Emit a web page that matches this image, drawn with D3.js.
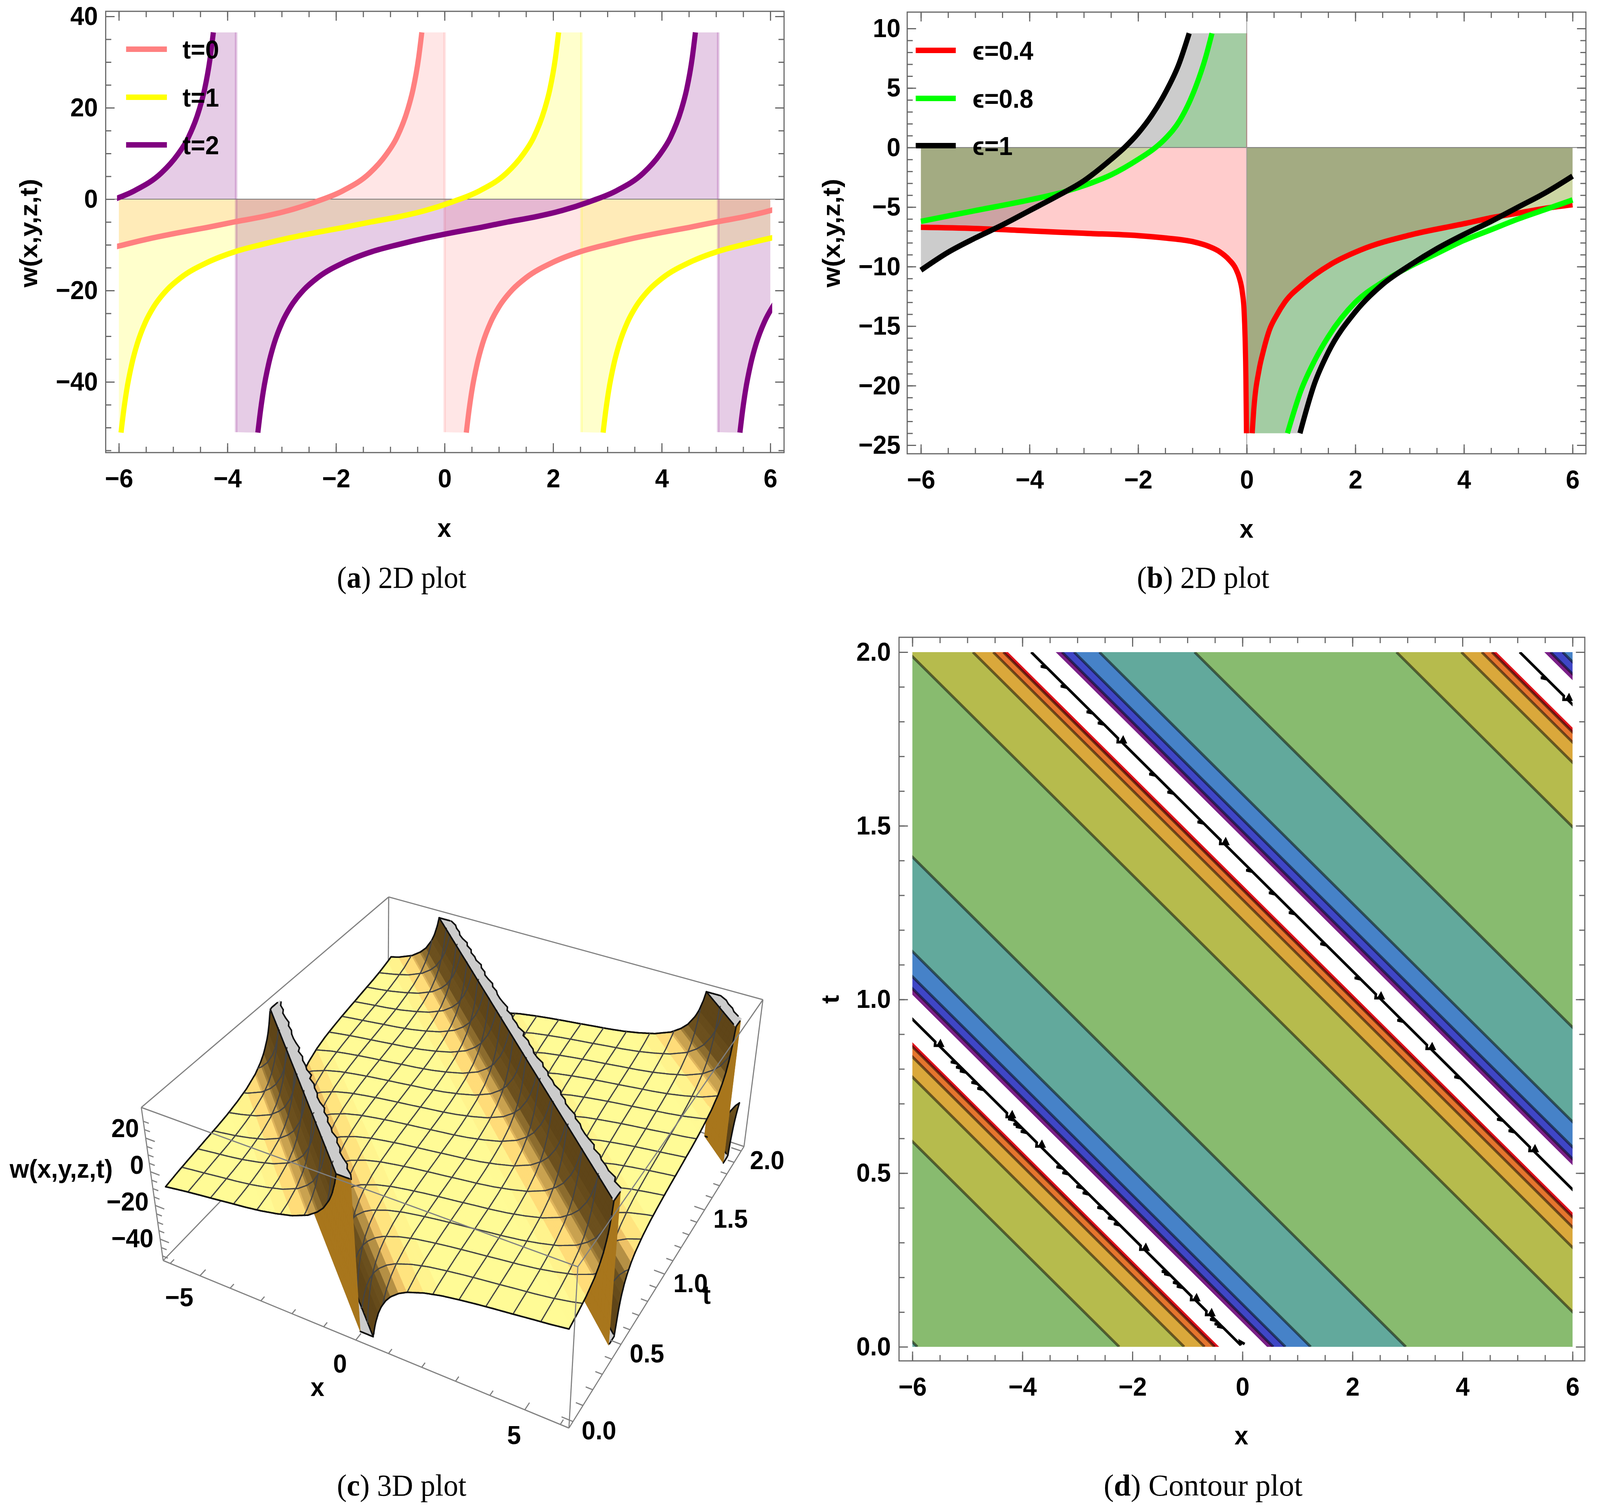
<!DOCTYPE html>
<html>
<head>
<meta charset="utf-8">
<script src="https://cdn.jsdelivr.net/npm/d3@7/dist/d3.min.js"></script>
<style>
  html, body { margin: 0; padding: 0; background: #fff; overflow: hidden; }
  svg { display: block; width: 100vw; height: 100vh; }
  text { font-family: "Liberation Sans", "DejaVu Sans", sans-serif; font-weight: bold; fill: #000; }
  .cap { font-family: "Liberation Serif", serif; font-weight: normal; }
</style>
</head>
<body>
<svg id="fig" viewBox="0 0 4314 3872" preserveAspectRatio="none"></svg>
<script>
// wave profile: distance right of a pole -> w
var phase = [0.40,0.45,0.5,0.6,0.7,0.85,1.0,1.25,1.5,2.0,2.5,3.0,3.5,4.0,4.5,5.0,5.5,6.0,6.5,7.0,7.5,7.8,8.0,8.2,8.3,8.4,8.46];
var profile = [-51.1,-46.2,-42.1,-36.0,-31.6,-26.9,-23.6,-19.8,-17.2,-13.8,-11.5,-9.9,-8.5,-7.3,-6.2,-5.0,-3.9,-2.5,-0.6,1.8,5.7,9.7,13.5,19.6,24.1,30.8,36.5];
var period = 8.88, speed = 6.36;

// panel a
var tLabels = ["t=0", "t=1", "t=2"];
var tColors = ["#ff8080", "#ffff00", "#800080"];
var tPoles = [[-8.88, 0], [-6.36, 2.52], [-12.72, -3.84, 5.04]];
var aFloor = -51, aCeil = 36.5;

// panel b, one left and one right branch per curve
var epsLabels = ["\u03f5=0.4", "\u03f5=0.8", "\u03f5=1"];
var epsColors = ["#ff0000", "#00ff00", "#000000"];
var redLeftX = [-6,-5,-4,-3,-2,-1.5,-1,-0.7,-0.5,-0.33,-0.2,-0.14,-0.08,-0.05,-0.03,-0.015,-0.005];
var redLeftW = [-6.7,-6.8,-7.0,-7.2,-7.4,-7.6,-7.9,-8.3,-8.75,-9.4,-10.2,-10.9,-12.2,-13.6,-16,-19.5,-24];
var redRightX = [0.1,0.13,0.23,0.3,0.42,0.55,0.7,1.03,1.55,2.1,3.05,4,4.5,5,5.5,6];
var redRightW = [-24,-22,-18.6,-17.2,-15.3,-14.1,-13,-11.5,-9.8,-8.6,-7.3,-6.4,-5.9,-5.5,-5.1,-4.8];
var greenLeftX = [-6,-5,-4,-3.43,-3,-2.5,-2,-1.68,-1.5,-1.23,-0.94,-0.756,-0.64];
var greenLeftW = [-6.2,-5.3,-4.4,-3.8,-3.2,-2.3,-1.0,0,0.75,2.3,5.1,7.6,9.6];
var greenRightX = [0.75,1,1.25,1.5,2,2.5,3,3.5,4,4.5,5,5.5,6];
var greenRightW = [-24,-20.4,-17.9,-15.9,-13,-11.3,-10,-8.9,-7.8,-6.9,-6,-5.2,-4.4];
var blackLeftX = [-6,-5.5,-5,-4.5,-4,-3.5,-3,-2.5,-2.25,-2,-1.75,-1.5,-1.25,-1.06];
var blackLeftW = [-10.3,-8.8,-7.6,-6.5,-5.3,-4.1,-2.8,-1.0,0,1.2,2.7,4.6,7.0,9.6];
var blackRightX = [0.98,1.25,1.5,2,2.5,3,3.5,4,4.5,5,5.5,6];
var blackRightW = [-24,-19.8,-17.2,-13.8,-11.5,-9.9,-8.5,-7.3,-6.2,-5,-3.8,-2.4];
var bCeil = 9.6, bFloor = -24;

// panel d, band edges in x + 6.36 t, one period
var bandEdges = [0.45,0.56,0.78,1.24,2.97,6.64,7.82,8.19,8.374,8.453];
var bandColors = ["#7a1f87","#3f46c6","#4682c8","#62a99c","#88bb6f","#b6bb4d","#daa83b","#e5752d","#e0141c"];
var lineEdges = [0.56,0.78,1.24,2.97,6.64,7.82,8.19,8.374];
var poleTeeth = [
  [0.058,0.065,0.078,0.173,0.184,0.209,0.216,0.353,0.37,0.40,0.442,0.46,0.50,0.517,0.619,0.633,0.64,0.655,0.743,0.76,0.793,0.804,0.819],
  [0.621,0.654,0.776,0.939,1.061,1.159,1.249,1.306,1.371,1.51,1.596,1.648,1.795,1.827,1.901,1.958],
  [1.925]
];
var poleNotches = [
  [0.10,0.143,0.288,0.585,0.67,0.875],
  [0.572,0.866,1.012,1.456,1.749],
  [1.871]
];
var poleOffsets = [0, 8.88, 17.76];

// panel c ticks
var xTicks3d = [-5, 0, 5], xMinor3d = [-6,-5,-4,-3,-2,-1,0,1,2,3,4,5,6];
var tTicks3d = [0, 0.5, 1, 1.5, 2], tMinor3d = d3.range(0, 2.01, 0.1);
var wTicks3d = [20, 0, -20, -40], wMinor3d = d3.range(-50, 31, 5);
// panel c strips of the surface between pole lines, and the rough far edge of the clipped top
var stripEdges = [0.4,0.45,0.5,0.55,0.6,0.65,0.7,0.75,0.8,0.85,0.9,0.95,1,1.05,1.1,1.15,1.2,1.25,1.3,1.35,1.4,1.45,1.5,1.6,1.7,1.8,1.9,2,2.1,2.2,2.35,2.5,2.75,3,3.25,3.5,3.75,4,4.25,4.5,4.75,5,5.25,5.5,5.65,5.8,5.95,6.1,6.2,6.3,6.4,6.5,6.6,6.7,6.8,6.9,7,7.06,7.12,7.18,7.24,7.3,7.36,7.42,7.48,7.54,7.6,7.66,7.72,7.78,7.84,7.9,7.95,8,8.05,8.1,8.15,8.2,8.25,8.3,8.35,8.4,8.43,8.46];
var stripRough = [0.02,0.07,0.03,0.1,0.04,0.01,0.08,0.05,0.12,0.03,0.06,0.02,0.09,0.04,0.11,0.03,0.01,0.07,0.05,0.09,0.02,0.13,0.04,0.06,0.03,0.08,0.01,0.1,0.05,0.02];

var svg = d3.select("#fig");
svg.append("rect").attr("width", 4314).attr("height", 3872).attr("fill", "#fff");

var FS = 67;
function minus(s) { return String(s).replace("-", "\u2212"); }

function drawAxes(g, box, sx, sy, xMajor, xMinor, yMajor, yMinor, yFmt, xPad, yPad) {
  g.append("rect").attr("x", box.l).attr("y", box.t).attr("width", box.r - box.l).attr("height", box.b - box.t)
    .attr("fill", "none").attr("stroke", "#666").attr("stroke-width", 3);
  var sides = [
    [d3.axisBottom, sx, "translate(0," + box.b + ")", xMajor, xMinor, d3.format("d"), xPad],
    [d3.axisTop, sx, "translate(0," + box.t + ")", xMajor, xMinor, null, 0],
    [d3.axisLeft, sy, "translate(" + box.l + ",0)", yMajor, yMinor, yFmt, yPad],
    [d3.axisRight, sy, "translate(" + box.r + ",0)", yMajor, yMinor, null, 0]
  ];
  sides.forEach(function(s) {
    var ag = g.append("g").attr("transform", s[2]);
    ag.append("g").call(s[0](s[1]).tickValues(s[4]).tickSize(-15).tickFormat(""));
    ag.append("g").call(s[0](s[1]).tickValues(s[3]).tickSize(-24).tickPadding(s[6])
      .tickFormat(s[5] ? function(d) { return minus(s[5](d)); } : ""));
    ag.selectAll(".domain").remove();
    ag.selectAll("line").attr("stroke", "#666").attr("stroke-width", 3);
    ag.selectAll("g").attr("font-family", null).attr("font-size", null);
  });
  g.selectAll("text").style("font-size", FS + "px");
}

function clipRect(id, x0, y0, x1, y1) {
  svg.append("clipPath").attr("id", id).append("rect").attr("x", x0).attr("y", y0).attr("width", x1 - x0).attr("height", y1 - y0);
}

function caption(cx, cy, letter, rest, len) {
  var t = svg.append("text").attr("class", "cap").attr("x", cx).attr("y", cy).attr("text-anchor", "middle")
    .attr("font-size", 78).attr("textLength", len).attr("lengthAdjust", "spacingAndGlyphs");
  t.append("tspan").text("(");
  t.append("tspan").style("font-weight", "bold").text(letter);
  t.append("tspan").text(") " + rest);
}

function legend(g, labels, colors, x0, x1, tx, ys) {
  labels.forEach(function(l, i) {
    g.append("line").attr("x1", x0).attr("x2", x1).attr("y1", ys[i]).attr("y2", ys[i])
      .attr("stroke", colors[i]).attr("stroke-width", 14);
    g.append("text").attr("x", tx).attr("y", ys[i]).attr("dy", "0.36em").attr("font-size", FS).text(l);
  });
}

// ---- panel a
(function() {
  var box = { l: 285, r: 2114, t: 29, b: 1159 };
  var sx = d3.scaleLinear().domain([-6, 6]).range([320.5, 2077]);
  var sy = d3.scaleLinear().domain([-40, 40]).range([978, 42]);
  var g = svg.append("g");
  clipRect("clipA", sx(-6), box.t, sx(6), box.b);
  clipRect("clipAl", sx(-6) - 5, box.t, sx(6) + 5, box.b);

  var area = d3.area().x(function(d) { return sx(d[0]); }).y0(sy(0)).y1(function(d) { return sy(d[1]); }).curve(d3.curveMonotoneX);
  var line = d3.line().x(function(d) { return sx(d[0]); }).y(function(d) { return sy(d[1]); }).curve(d3.curveMonotoneX);

  tPoles.forEach(function(poles, i) {
    poles.forEach(function(p) {
      var pts = phase.map(function(u, k) { return [p + u, profile[k]]; });
      var fillPts = [[p, aFloor]].concat(pts).concat([[p + period, aCeil]]);
      g.append("path").attr("d", area(fillPts)).attr("fill", tColors[i]).attr("fill-opacity", 0.2).attr("clip-path", "url(#clipA)");
      g.append("line").attr("x1", sx(p)).attr("x2", sx(p)).attr("y1", sy(aCeil)).attr("y2", sy(aFloor))
        .attr("stroke", tColors[i]).attr("stroke-opacity", 0.2).attr("stroke-width", 7).attr("clip-path", "url(#clipAl)");
    });
  });
  g.append("line").attr("x1", box.l).attr("x2", box.r).attr("y1", sy(0)).attr("y2", sy(0)).attr("stroke", "#777").attr("stroke-width", 2);
  tPoles.forEach(function(poles, i) {
    poles.forEach(function(p) {
      var pts = phase.map(function(u, k) { return [p + u, profile[k]]; });
      g.append("path").attr("d", line(pts)).attr("fill", "none").attr("stroke", tColors[i]).attr("stroke-width", 14)
        .attr("clip-path", "url(#clipAl)");
    });
  });
  legend(g, tLabels, tColors, 340, 450, 492, [126, 249, 371]);
  drawAxes(g, box, sx, sy, d3.range(-6, 7, 2), d3.range(-6, 6.1, 0.5), d3.range(-40, 41, 20), d3.range(-55, 41, 5), d3.format("d"), 41, 21);
  g.append("text").attr("transform", "translate(76,597) rotate(-90)").attr("text-anchor", "middle").attr("dy", "0.36em").attr("font-size", FS).text("w(x,y,z,t)");
  g.append("text").attr("x", 1198).attr("y", 1351).attr("text-anchor", "middle").attr("dy", "0.36em").attr("font-size", FS).text("x");
  caption(1083, 1505, "a", "2D plot", 349);
})();

// ---- panel b
(function() {
  var box = { l: 2446, r: 4276, t: 31, b: 1162 };
  var sx = d3.scaleLinear().domain([-6, 6]).range([2483, 4240]);
  var sy = d3.scaleLinear().domain([-25, 10]).range([1140, 73]);
  var g = svg.append("g");
  var area = d3.area().x(function(d) { return sx(d[0]); }).y0(sy(0)).y1(function(d) { return sy(d[1]); }).curve(d3.curveMonotoneX);
  var line = d3.line().x(function(d) { return sx(d[0]); }).y(function(d) { return sy(d[1]); }).curve(d3.curveMonotoneX);
  function zipPts(xs, ws) { return xs.map(function(x, i) { return [x, ws[i]]; }); }
  var curves = [
    [zipPts(redLeftX, redLeftW), zipPts(redRightX, redRightW), bFloor],
    [zipPts(greenLeftX, greenLeftW), zipPts(greenRightX, greenRightW), bCeil],
    [zipPts(blackLeftX, blackLeftW), zipPts(blackRightX, blackRightW), bCeil]
  ];
  curves.forEach(function(c, i) {
    g.append("path").attr("d", area(c[0].concat([[0, c[2]]]))).attr("fill", epsColors[i]).attr("fill-opacity", 0.2);
    g.append("path").attr("d", area([[0, bFloor]].concat(c[1]))).attr("fill", epsColors[i]).attr("fill-opacity", 0.2);
  });
  g.append("line").attr("x1", sx(0)).attr("x2", sx(0)).attr("y1", sy(bCeil)).attr("y2", sy(0)).attr("stroke", "#ff0000").attr("stroke-opacity", 0.45).attr("stroke-width", 3);
  g.append("line").attr("x1", box.l).attr("x2", box.r).attr("y1", sy(0)).attr("y2", sy(0)).attr("stroke", "#777").attr("stroke-width", 2);
  g.append("line").attr("x1", sx(0)).attr("x2", sx(0)).attr("y1", box.t).attr("y2", box.b).attr("stroke", "#999").attr("stroke-width", 2);
  curves.forEach(function(c, i) {
    [c[0], c[1]].forEach(function(pts) {
      g.append("path").attr("d", line(pts)).attr("fill", "none").attr("stroke", epsColors[i]).attr("stroke-width", 14);
    });
  });
  legend(g, epsLabels, epsColors, 2469, 2577, 2622, [129, 252, 373]);
  drawAxes(g, box, sx, sy, d3.range(-6, 7, 2), d3.range(-6, 6.1, 0.5), d3.range(-25, 11, 5), d3.range(-25, 11, 1), d3.format("d"), 41, 18);
  g.append("text").attr("transform", "translate(2240,597) rotate(-90)").attr("text-anchor", "middle").attr("dy", "0.36em").attr("font-size", FS).text("w(x,y,z,t)");
  g.append("text").attr("x", 3361).attr("y", 1353).attr("text-anchor", "middle").attr("dy", "0.36em").attr("font-size", FS).text("x");
  caption(3244, 1505, "b", "2D plot", 357);
})();

// ---- panel c
(function() {
  var g = svg.append("g");
  var sS = d3.scaleLinear().domain([-6.24, 6.24]).range([0, 1]);
  var sR = d3.scaleLinear().domain([-0.04, 2.04]).range([0, 1]);
  var sZ = d3.scaleLinear().domain([-52.7, 38.2]).range([0, 1]);

  // corners of box, order (s,r): (0,0) (1,0) (1,1) (0,1)
  var topQuad = [[381, 2836], [1558, 3244], [2057, 2560], [1048, 2297]];
  var botQuad = [[440, 3228], [1534, 3657], [2006, 2936], [1046, 2633]];

  function homography(q) {
    var x0 = q[0][0], y0 = q[0][1], x1 = q[1][0], y1 = q[1][1], x2 = q[2][0], y2 = q[2][1], x3 = q[3][0], y3 = q[3][1];
    var dx1 = x1 - x2, dx2 = x3 - x2, dy1 = y1 - y2, dy2 = y3 - y2;
    var sx = x0 - x1 + x2 - x3, sy = y0 - y1 + y2 - y3;
    var den = dx1 * dy2 - dx2 * dy1;
    var gg = (sx * dy2 - dx2 * sy) / den, h = (dx1 * sy - sx * dy1) / den;
    var a = x1 - x0 + gg * x1, b = x3 - x0 + h * x3, d = y1 - y0 + gg * y1, e = y3 - y0 + h * y3;
    return function(s, r) {
      var w = gg * s + h * r + 1;
      return [(a * s + b * r + x0) / w, (d * s + e * r + y0) / w];
    };
  }
  var hTop = homography(topQuad), hBot = homography(botQuad);
  function proj(x, t, w) {
    var s = sS(x), r = sR(t), z = sZ(w), a = hBot(s, r), b = hTop(s, r);
    return [a[0] + (b[0] - a[0]) * z, a[1] + (b[1] - a[1]) * z];
  }
  function dist(x, t, w) {
    var X = sS(x) - 0.5 - 1.3, Y = sR(t) - 0.5 + 2.4, Z = (sZ(w) - 0.5) * 0.4 - 2;
    return Math.sqrt(X * X + Y * Y + Z * Z);
  }
  function seg(a, b, col, wd) {
    g.append("line").attr("x1", a[0]).attr("y1", a[1]).attr("x2", b[0]).attr("y2", b[1]).attr("stroke", col).attr("stroke-width", wd);
  }
  var boxCol = "#808080";
  seg(topQuad[3], botQuad[3], boxCol, 3);
  seg(botQuad[0], botQuad[3], boxCol, 3);
  seg(botQuad[2], botQuad[3], boxCol, 3);

  var waveAt = d3.scaleLinear().domain(phase).range(profile).clamp(true);
  var slopeColor = d3.scaleLinear()
    .domain([0, 3.6, 6, 9, 13, 19, 30, 60])
    .range(["#fffb96", "#fffb96", "#ffeb84", "#ffd272", "#cda552", "#8c6c2e", "#6c501e", "#5f4518"])
    .clamp(true);

  var items = [];
  // keep the part of a polygon with -6 <= x <= 6, vertices [x,t,w]
  function clipX(poly, limit, sign) {
    var out = [];
    poly.forEach(function(a, i) {
      var b = poly[(i + 1) % poly.length], ia = sign * (a[0] - limit) >= 0, ib = sign * (b[0] - limit) >= 0;
      if (ia) out.push(a);
      if (ia !== ib) {
        var f = (limit - a[0]) / (b[0] - a[0]);
        out.push([limit, a[1] + (b[1] - a[1]) * f, a[2] + (b[2] - a[2]) * f]);
      }
    });
    return out;
  }
  function addPoly(poly, col, bias) {
    var c = clipX(clipX(poly, -6, 1), 6, -1);
    if (c.length < 3) return;
    var d = "M" + c.map(function(v) { var p = proj(v[0], v[1], v[2]); return p[0].toFixed(1) + "," + p[1].toFixed(1); }).join("L") + "Z";
    items.push({ d: d, fill: col, stroke: col, sw: 1.2,
      depth: dist(d3.mean(c, function(v) { return v[0]; }), d3.mean(c, function(v) { return v[1]; }), d3.mean(c, function(v) { return v[2]; })) + (bias || 0) });
  }
  function addSeg(a, b, col, wd) {
    if (Math.max(a[0], b[0]) > 6.001 || Math.min(a[0], b[0]) < -6.001) return;
    var p = proj(a[0], a[1], a[2]), q = proj(b[0], b[1], b[2]);
    items.push({ d: "M" + p[0].toFixed(1) + "," + p[1].toFixed(1) + "L" + q[0].toFixed(1) + "," + q[1].toFixed(1),
      fill: "none", stroke: col, sw: wd, depth: dist((a[0] + b[0]) / 2, (a[1] + b[1]) / 2, (a[2] + b[2]) / 2) - 0.02 });
  }

  var nt = 80, dt = 2 / nt, top = phase[phase.length - 1], bot = phase[0];
  var zFloor = profile[0], zCeil = profile[profile.length - 1];
  d3.range(-1, 3).forEach(function(k) {
    var off = k * period;
    function at(u, t, w) { return [off + u - speed * t, t, w]; }
    d3.range(nt).forEach(function(j) {
      var t0 = j * dt, t1 = (j + 1) * dt;
      var e0 = period + stripRough[j % stripRough.length], e1 = period + stripRough[(j + 1) % stripRough.length];
      stripEdges.slice(1).forEach(function(u1, i) {
        var u0 = stripEdges[i], w0 = waveAt(u0), w1 = waveAt(u1);
        addPoly([at(u0, t0, w0), at(u1, t0, w1), at(u1, t1, w1), at(u0, t1, w0)], slopeColor((w1 - w0) / (u1 - u0)));
      });
      // clipped top and bottom of the pole, then the wall that joins them
      addPoly([at(top, t0, zCeil), at(e0, t0, zCeil), at(e1, t1, zCeil), at(top, t1, zCeil)], "#cccccc", -0.002);
      addPoly([at(period, t0, zFloor), at(period + bot, t0, zFloor), at(period + bot, t1, zFloor), at(period, t1, zFloor)], "#cccccc", 0.002);
      d3.range(8).forEach(function(z) {
        var a = zFloor + (zCeil - zFloor) * z / 8, b = zFloor + (zCeil - zFloor) * (z + 1) / 8;
        addPoly([at(period, t0, a), at(period, t1, a), at(period, t1, b), at(period, t0, b)], "#a8761c");
      });
      addSeg(at(top, t0, zCeil), at(top, t1, zCeil), "#111", 4);
      addSeg(at(e0, t0, zCeil), at(e1, t1, zCeil), "#111", 4);
      addSeg(at(bot + period, t0, zFloor), at(bot + period, t1, zFloor), "#111", 4);
    });
  });

  function waveWrap(u) { return ((u % period) + period) % period; }
  function meshHeight(x, t) { return waveAt(waveWrap(x + speed * t)); }
  function hiddenOnPlateau(x, t) { var u = waveWrap(x + speed * t); return u < bot || u > top; }
  function track(pts, col, wd, keepPlateau) {
    for (var i = 1; i < pts.length; i++) {
      var a = pts[i - 1], b = pts[i];
      if (Math.abs(a[2] - b[2]) > 40) continue;
      if (!keepPlateau && hiddenOnPlateau(a[0], a[1]) && hiddenOnPlateau(b[0], b[1])) continue;
      addSeg(a, b, col, wd);
    }
  }
  var meshN = 16;
  d3.range(0, meshN + 1).forEach(function(m) {
    var mx = -6 + 12 * m / meshN, mt = 2 * m / meshN, edge = m === 0 || m === meshN;
    var col = edge ? "#111" : "#444", wd = edge ? 4 : 3.2;
    track(d3.range(0, 161).map(function(i) { var t = i / 80; return [mx, t, meshHeight(mx, t)]; }), col, wd, edge);
    track(d3.range(0, 401).map(function(i) { var x = -6 + 12 * i / 400; return [x, mt, meshHeight(x, mt)]; }), col, wd, edge);
  });

  items.sort(function(a, b) { return b.depth - a.depth; });
  g.append("g").selectAll("path").data(items).join("path")
    .attr("d", function(d) { return d.d; })
    .attr("fill", function(d) { return d.fill; })
    .attr("stroke", function(d) { return d.stroke; })
    .attr("stroke-width", function(d) { return d.sw; })
    .attr("stroke-linejoin", "round")
    .attr("stroke-linecap", "round");

  // front box edges over surface
  seg(topQuad[0], topQuad[1], boxCol, 3);
  seg(topQuad[1], topQuad[2], boxCol, 3);
  seg(topQuad[2], topQuad[3], boxCol, 3);
  seg(topQuad[3], topQuad[0], boxCol, 3);
  seg(topQuad[0], botQuad[0], boxCol, 3);
  seg(topQuad[1], botQuad[1], boxCol, 3);
  seg(topQuad[2], botQuad[2], boxCol, 3);
  seg(botQuad[0], botQuad[1], boxCol, 3);
  seg(botQuad[1], botQuad[2], boxCol, 3);

  // ticks on the three visible edges
  var wLo = sZ.domain()[0], tLo = sR.domain()[0], xHi = sS.domain()[1], xLo = sS.domain()[0];
  xMinor3d.forEach(function(x) {
    seg(proj(x, tLo, wLo), proj(x, tLo + (xTicks3d.indexOf(x) >= 0 ? 0.045 : 0.03), wLo), boxCol, 3);
  });
  tMinor3d.forEach(function(t) {
    var major = Math.abs(t * 2 - Math.round(t * 2)) < 1e-6;
    seg(proj(xHi, t, wLo), proj(xHi - (major ? 0.32 : 0.2), t, wLo), boxCol, 3);
  });
  wMinor3d.forEach(function(w) {
    seg(proj(xLo, tLo, w), proj(xLo + (w % 20 === 0 ? 0.3 : 0.18), tLo, w), boxCol, 3);
  });

  function lab(x, y, s, anchor) {
    g.append("text").attr("x", x).attr("y", y).attr("dy", "0.36em").attr("text-anchor", anchor || "middle").attr("font-size", FS).text(s);
  }
  xTicks3d.forEach(function(x) {
    var p = proj(x, tLo, wLo);
    lab(p[0] - 56 + (x + 5) * 2.7, p[1] + 54 + (x + 5) * 1, minus(x));
  });
  tTicks3d.forEach(function(t) {
    var p = proj(xHi, t, wLo);
    lab(p[0] + 70, p[1] + 22, t.toFixed(1));
  });
  wTicks3d.forEach(function(w) {
    var p = proj(xLo, tLo, w);
    lab(p[0] - 18, p[1] - 19 - w * 0.4, minus(w), "end");
  });
  lab(856, 3551, "x");
  lab(1905, 3315, "t");
  lab(165, 2992, "w(x,y,z,t)");
  caption(1083, 3830, "c", "3D plot", 349);
})();

// ---- panel d
(function() {
  var box = { l: 2424, r: 4273, t: 1632, b: 3485 };
  var sx = d3.scaleLinear().domain([-6, 6]).range([2460, 4240]);
  var sy = d3.scaleLinear().domain([0, 2]).range([3449, 1670]);
  var g = svg.append("g");
  clipRect("clipD", sx(-6), sy(2), sx(6), sy(0));
  var plot = g.append("g").attr("clip-path", "url(#clipD)");
  var path = d3.line().x(function(d) { return sx(d[0]); }).y(function(d) { return sy(d[1]); });
  function atU(u, t) { return [u - speed * t, t]; }
  d3.range(-1, 3).forEach(function(k) {
    var off = k * period;
    bandColors.forEach(function(col, i) {
      var a = bandEdges[i] + off, b = bandEdges[i + 1] + off;
      plot.append("path").attr("d", path([atU(a, 0), atU(b, 0), atU(b, 2), atU(a, 2)]) + "Z").attr("fill", col).attr("stroke", col).attr("stroke-width", 1);
    });
    lineEdges.forEach(function(e) {
      plot.append("path").attr("d", path([atU(e + off, 0), atU(e + off, 2)])).attr("fill", "none")
        .attr("stroke", "#000").attr("stroke-opacity", 0.5).attr("stroke-width", 7);
    });
  });
  // the pole lines are rough in the reference, teeth and notches read off it
  poleOffsets.forEach(function(off, n) {
    var marks = poleTeeth[n].map(function(t) { return { t: t, tooth: true }; })
      .concat(poleNotches[n].map(function(t) { return { t: t, tooth: false }; }));
    marks.sort(function(a, b) { return b.t - a.t; });
    var pl = [];
    var tHi = n === 0 ? 0.96 : 2, tLo = n === 0 ? 0.005 : (n === 1 ? 0.42 : 1.84);
    pl.push(atU(off, tHi));
    marks.forEach(function(m) {
      var t = m.t;
      if (m.tooth) {
        pl.push(atU(off, t + 0.003), atU(off - 0.085, t + 0.001), atU(off, t - 0.003));
      } else {
        pl.push(atU(off, t + 0.003), atU(off - 0.075, t - 0.008), atU(off + 0.06, t - 0.008), atU(off + 0.1, t + 0.004), atU(off, t - 0.006));
      }
    });
    pl.push(atU(off, tLo));
    if (n === 0) pl.push(atU(off + 0.055, 0.0155), atU(off + 0.09, 0.008));
    plot.append("path").attr("d", path(pl)).attr("fill", "none").attr("stroke", "#000").attr("stroke-width", 7)
      .attr("stroke-linejoin", "miter").attr("stroke-miterlimit", 2.6);
  });
  drawAxes(g, box, sx, sy, d3.range(-6, 7, 2), d3.range(-6, 6.1, 0.5), [0, 0.5, 1, 1.5, 2], d3.range(0, 2.01, 0.1), d3.format(".1f"), 41, 22);
  g.append("text").attr("transform", "translate(2237,2559) rotate(-90)").attr("text-anchor", "middle").attr("dy", "0.36em").attr("font-size", FS).text("t");
  g.append("text").attr("x", 3347).attr("y", 3675).attr("text-anchor", "middle").attr("dy", "0.36em").attr("font-size", FS).text("x");
  caption(3244, 3830, "d", "Contour plot", 536);
})();
</script>
</body>
</html>
